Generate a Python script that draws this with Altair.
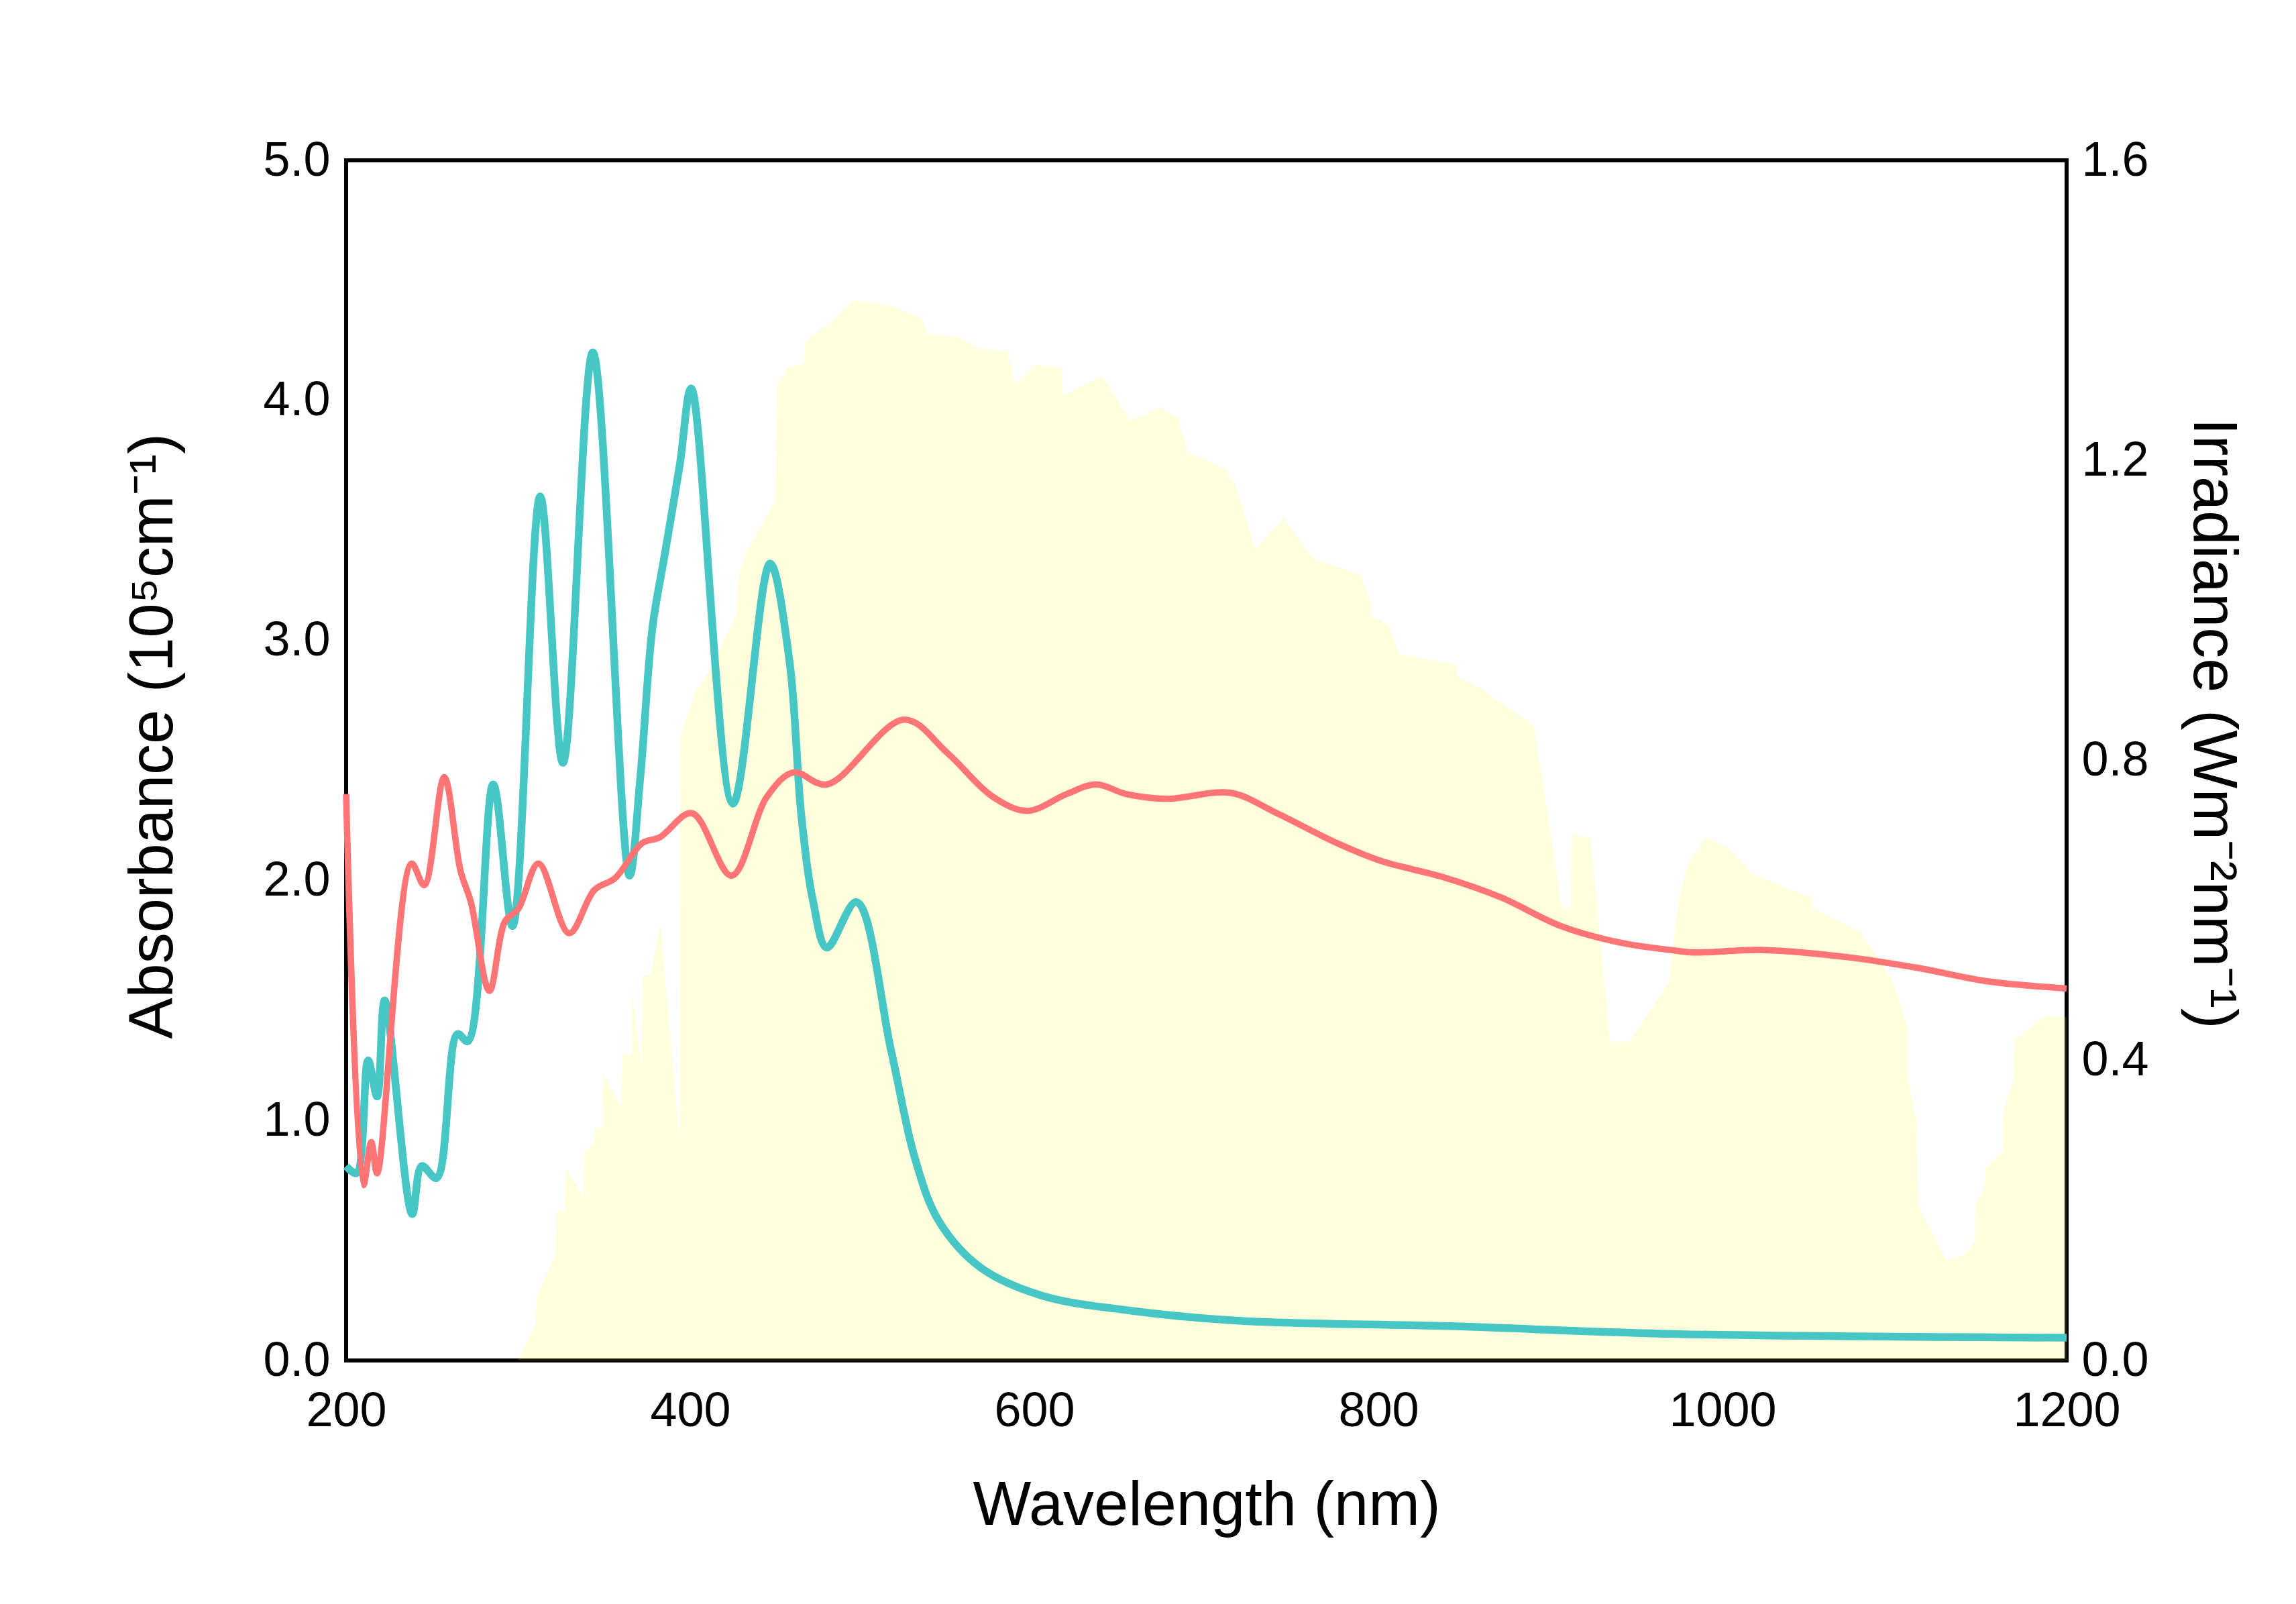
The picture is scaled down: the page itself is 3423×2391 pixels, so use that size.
import altair as alt
import pandas as pd

# ---- data ----
wl_teal = [200, 206, 212.8, 218, 222.4, 238.4, 244, 252.6, 264.7, 270.8, 285.5, 296.7,
           312.8, 326, 343.4, 364.7, 371, 378, 385, 393.9, 400.6, 424.8, 446.4, 457.6,
           464.6, 471.5, 479.4, 496.7, 516.8, 530.7, 544.6, 569, 604.6, 656.8, 720.6,
           841, 975, 1200]
abs_teal = [0.81, 0.78, 1.25, 1.10, 1.50, 0.61, 0.81, 0.76, 1.36, 1.33, 2.40, 1.81,
            3.60, 2.49, 4.20, 2.02, 2.43, 3.05, 3.35, 3.73, 4.05, 2.32, 3.32, 2.92,
            2.27, 1.91, 1.72, 1.91, 1.29, 0.84, 0.58, 0.386, 0.27, 0.207, 0.165,
            0.143, 0.11, 0.095]

wl_coral = [200, 210, 214.6, 218, 238, 245.4, 257, 266.5, 272.5, 283.3, 292.4, 300,
            311.8, 329.6, 344.3, 356.4, 372, 382.4, 401, 424, 444.7, 460, 479.5, 524.4,
            549.6, 575.6, 596, 618.8, 636, 653.4, 677.5, 714, 741, 776, 802, 837, 871,
            906, 941, 970, 983, 1024, 1073, 1114, 1154, 1200]
abs_coral = [2.36, 0.73, 0.91, 0.78, 2.07, 1.98, 2.43, 2.04, 1.91, 1.54, 1.83, 1.88,
             2.07, 1.78, 1.96, 2.01, 2.155, 2.18, 2.28, 2.02, 2.35, 2.45, 2.40, 2.67,
             2.53, 2.35, 2.29, 2.36, 2.40, 2.36, 2.34, 2.365, 2.28, 2.155, 2.08, 2.015,
             1.93, 1.81, 1.74, 1.71, 1.70, 1.71, 1.68, 1.635, 1.58, 1.55]

wl_sun = [299.7, 310, 310.7, 317.2, 321.8, 322.2, 327, 327.6, 338, 338.7, 343.9, 344.5,
          349, 349.5, 360, 360.7, 366, 366.3, 371.8, 372.4, 377, 382.8, 393.9, 394.2,
          402.6, 411, 427, 427.8, 433, 449.5, 450.5, 456.5, 466.3, 467, 481.9, 495,
          516.8, 533.3, 538.4, 555, 569, 583.8, 589, 600.4, 616, 616.8, 639.5, 656,
          673.3, 683.8, 689, 711, 717, 728.4, 745, 761.5, 789.4, 795, 796, 805.8, 812,
          845, 846, 860.7, 874.6, 890.3, 906.8, 912, 912.6, 923.4, 934.6, 946, 968.8,
          974, 979.3, 990.4, 1003, 1018, 1051.6, 1052, 1080, 1098.4, 1107.4, 1107.6,
          1113, 1113.4, 1130, 1141, 1146.8, 1147, 1152.6, 1153, 1163, 1163.5, 1169,
          1169.4, 1179.6, 1186, 1200]
irr_sun = [0, 0.048, 0.084, 0.118, 0.143, 0.20, 0.20, 0.256, 0.219, 0.278, 0.29, 0.31,
           0.31, 0.381, 0.338, 0.408, 0.408, 0.492, 0.39, 0.512, 0.515, 0.582, 0.29, 0.83,
           0.89, 0.92, 0.995, 1.04, 1.08, 1.146, 1.30, 1.323, 1.33, 1.359, 1.385, 1.413,
           1.406, 1.392, 1.369, 1.364, 1.349, 1.346, 1.302, 1.328, 1.323, 1.286, 1.312,
           1.253, 1.271, 1.255, 1.212, 1.188, 1.167, 1.081, 1.123, 1.07, 1.047, 1.014,
           0.993, 0.98, 0.942, 0.928, 0.912, 0.894, 0.871, 0.847, 0.603, 0.603, 0.702,
           0.695, 0.425, 0.425, 0.503, 0.606, 0.658, 0.698, 0.684, 0.648, 0.617, 0.603,
           0.572, 0.508, 0.445, 0.378, 0.316, 0.207, 0.134, 0.141, 0.16, 0.207, 0.233,
           0.257, 0.279, 0.337, 0.373, 0.427, 0.444, 0.458, 0.458]

x_ticks = [200, 400, 600, 800, 1000, 1200]
abs_ticks = [0, 1, 2, 3, 4, 5]
irr_ticks = [0, 0.4, 0.8, 1.2, 1.6]

df_teal = pd.DataFrame({"wl": wl_teal, "a": abs_teal})
df_coral = pd.DataFrame({"wl": wl_coral, "a": abs_coral})
df_sun = pd.DataFrame({"wl": wl_sun, "irr": irr_sun})

FONT = "Liberation Sans"

xenc = alt.X(
    "wl:Q",
    scale=alt.Scale(domain=[200, 1200], nice=False, zero=False),
    axis=alt.Axis(values=x_ticks, title="Wavelength (nm)", labelPadding=40,
                  titlePadding=60, labelFlush=False, format="d"),
)

area = alt.Chart(df_sun).mark_area(
    color="#FFFF00", fillOpacity=0.135, interpolate="linear"
).encode(
    x=xenc,
    y=alt.Y(
        "irr:Q",
        scale=alt.Scale(domain=[0, 1.6], nice=False),
        axis=alt.Axis(orient="right", values=irr_ticks, format=".1f",
                      title="Irradiance (Wm⁻²nm⁻¹)", labelPadding=22,
                      titlePadding=48, titleY=839),
    ),
)

yabs = alt.Y(
    "a:Q",
    scale=alt.Scale(domain=[0, 5], nice=False),
    axis=alt.Axis(orient="left", values=abs_ticks, format=".1f",
                  title="Absorbance (10⁵cm⁻¹)", labelPadding=24,
                  titlePadding=116, titleY=858),
)

teal = alt.Chart(df_teal).mark_line(
    color="#46C6C4", strokeWidth=11.5, interpolate="catmull-rom", strokeJoin="round"
).encode(x=xenc, y=yabs)

coral = alt.Chart(df_coral).mark_line(
    color="#FF7474", strokeWidth=9.5, interpolate="catmull-rom", strokeJoin="round"
).encode(x=xenc, y=yabs)

lines = alt.layer(teal, coral)

chart = alt.layer(area, lines).resolve_scale(y="independent").properties(
    width=2565,
    height=1789,
    background="white",
    autosize=alt.AutoSizeParams(type="none"),
    padding={"left": 508, "top": 231, "right": 334, "bottom": 355},
).configure_axis(
    labelFont=FONT, titleFont=FONT, labelFontSize=72, titleFontSize=92,
    titleFontWeight="normal", labelColor="black", titleColor="black",
    ticks=False, domain=False, grid=False,
).configure_view(
    stroke="black", strokeWidth=6
)

chart.save("out.html", embed_options={"renderer": "svg", "actions": False})
